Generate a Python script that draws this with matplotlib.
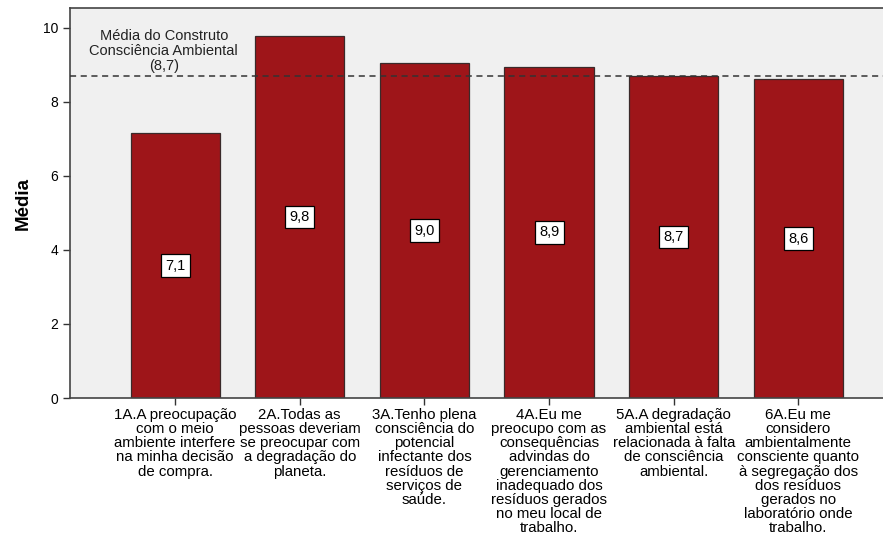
import matplotlib
matplotlib.use("Agg")
import matplotlib.pyplot as plt

plt.rcParams['font.family'] = ['Liberation Sans', 'DejaVu Sans']

categories = [
    "1A.A preocupação\ncom o meio\nambiente interfere\nna minha decisão\nde compra.",
    "2A.Todas as\npessoas deveriam\nse preocupar com\na degradação do\nplaneta.",
    "3A.Tenho plena\nconsciência do\npotencial\ninfectante dos\nresíduos de\nserviços de\nsaúde.",
    "4A.Eu me\npreocupo com as\nconsequências\nadvindas do\ngerenciamento\ninadequado dos\nresíduos gerados\nno meu local de\ntrabalho.",
    "5A.A degradação\nambiental está\nrelacionada à falta\nde consciência\nambiental.",
    "6A.Eu me\nconsidero\nambientalmente\nconsciente quanto\nà segregação dos\ndos resíduos\ngerados no\nlaboratório onde\ntrabalho.",
]
means = [7.15, 9.78, 9.05, 8.95, 8.70, 8.62]
value_labels = ["7,1", "9,8", "9,0", "8,9", "8,7", "8,6"]
construct_mean = 8.7
construct_label = "Média do Construto\nConsciência Ambiental\n(8,7)"

fig = plt.figure(figsize=(8.83, 5.42), dpi=100)
ax = fig.add_axes([70 / 883, 1 - 398 / 542, 1 - 70 / 883 + 0.01, (398 - 8) / 542])
ax.set_facecolor('#f0f0f0')

x = list(range(len(categories)))
ax.bar(x, means, width=0.715, color='#9e1519', edgecolor='#3a2a2a', linewidth=0.9, zorder=2)

for xi, m, lab in zip(x, means, value_labels):
    ax.text(xi, m / 2, lab, ha='center', va='center', fontsize=10.5, zorder=4,
            bbox=dict(boxstyle='square,pad=0.3', facecolor='white', edgecolor='black', linewidth=0.9))

ax.axhline(construct_mean, color='#333333', linestyle=(0, (4, 3)), linewidth=1.1, zorder=3)
ax.text(-0.09, 8.78, construct_label, ha='center', va='bottom', fontsize=10.5,
        linespacing=1.08, color='#222222')

ax.set_xlim(-0.843, 5.75)
ax.set_ylim(0, 10.54)
ax.set_yticks([0, 2, 4, 6, 8, 10])
ax.set_yticklabels(['0', '2', '4', '6', '8', '10'], fontsize=10)
ax.set_xticks(x)
ax.set_xticklabels(categories, fontsize=10.8, linespacing=1.02, va='top', ha='center')
ax.tick_params(axis='both', direction='out', length=5, width=1, color='#333333')
ax.tick_params(axis='x', pad=2)
ax.set_ylabel('Média', fontsize=13.5, fontweight='bold')
ax.yaxis.set_label_coords(-0.046, 0.5)

for side in ['left', 'bottom', 'top']:
    ax.spines[side].set_color('#444444')
    ax.spines[side].set_linewidth(1.2)
ax.spines['right'].set_visible(False)

fig.savefig('out.png', dpi=100)
